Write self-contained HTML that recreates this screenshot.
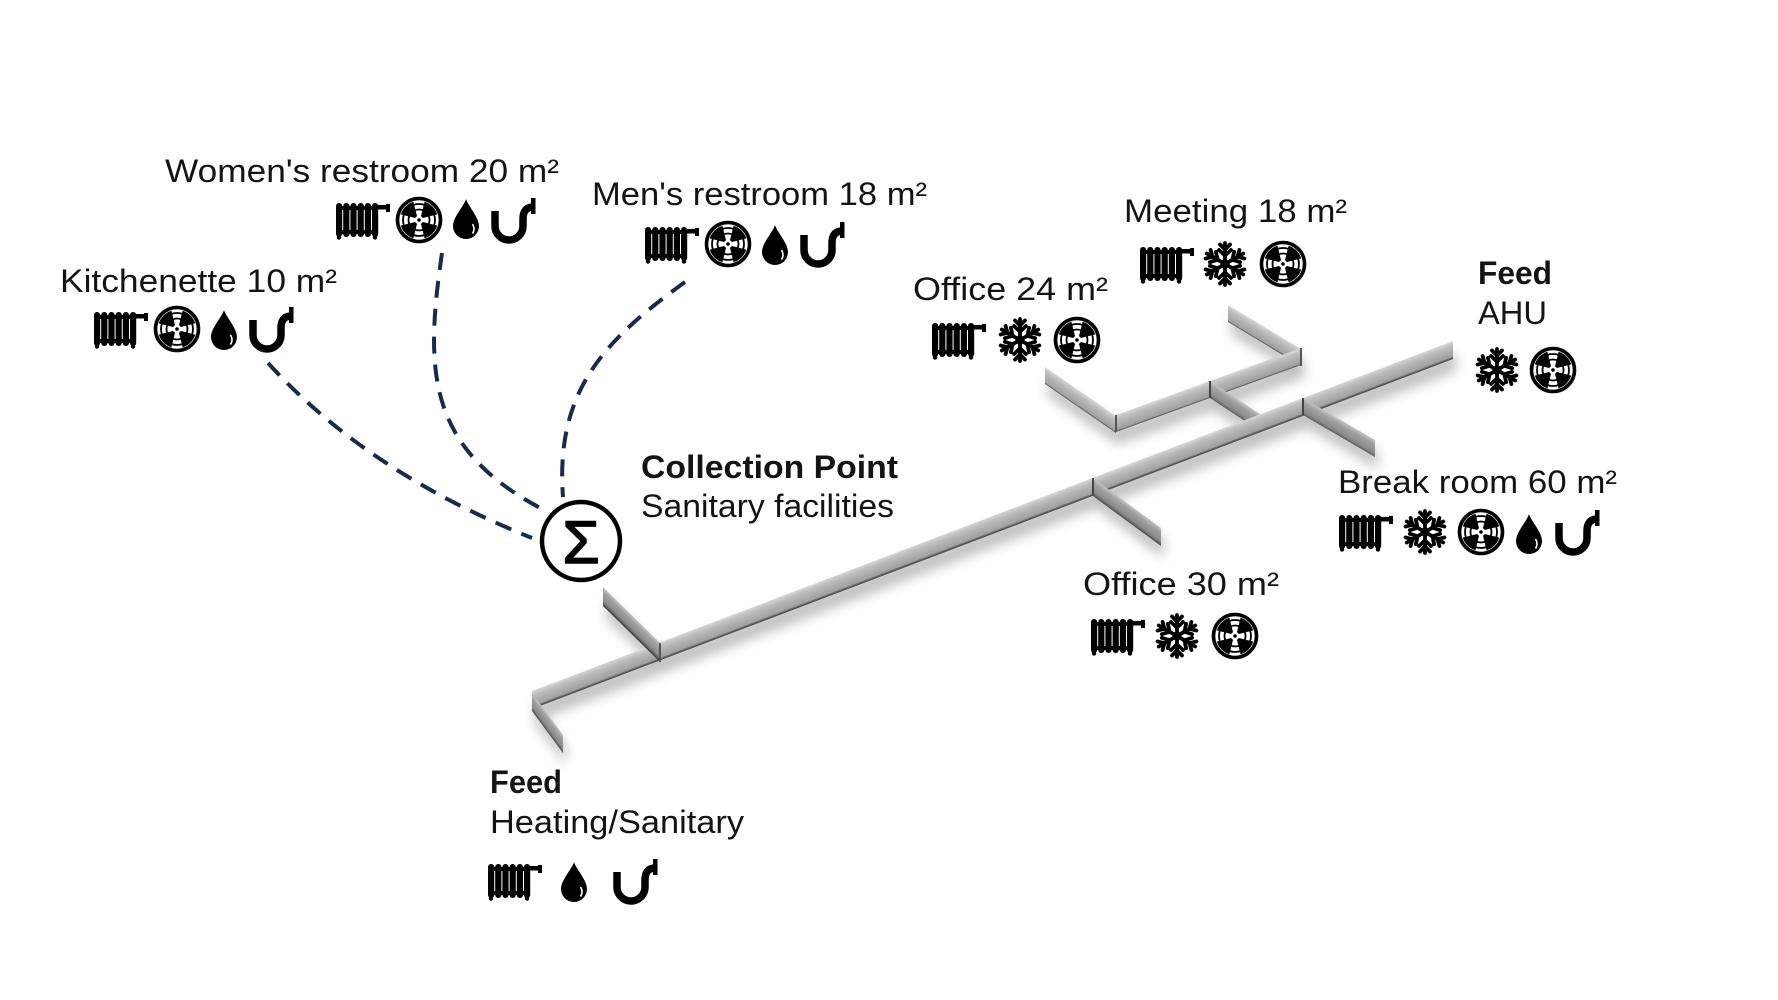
<!DOCTYPE html>
<html>
<head>
<meta charset="utf-8">
<style>
html,body{margin:0;padding:0;background:#fff;}
svg{display:block;}
</style>
</head>
<body>
<svg xmlns="http://www.w3.org/2000/svg" xmlns:xlink="http://www.w3.org/1999/xlink" width="1778" height="1000" viewBox="0 0 1778 1000" font-family="'Liberation Sans', Arial, sans-serif">
<defs>
  <linearGradient id="pg" gradientUnits="userSpaceOnUse" x1="0" y1="0" x2="0" y2="18">
    <stop offset="0" stop-color="#d8d8d8"/>
    <stop offset="0.2" stop-color="#c2c2c2"/>
    <stop offset="0.5" stop-color="#b0b0b0"/>
    <stop offset="0.85" stop-color="#a0a0a0"/>
    <stop offset="0.9" stop-color="#6a6a6a"/>
    <stop offset="1" stop-color="#454545"/>
  </linearGradient>
  <linearGradient id="pg2" gradientUnits="userSpaceOnUse" x1="0" y1="0" x2="0" y2="18">
    <stop offset="0" stop-color="#c4c4c4"/>
    <stop offset="0.25" stop-color="#a2a2a2"/>
    <stop offset="0.75" stop-color="#8a8a8a"/>
    <stop offset="0.9" stop-color="#666"/>
    <stop offset="1" stop-color="#444"/>
  </linearGradient>
  <filter id="blur" x="-20%" y="-20%" width="140%" height="140%">
    <feGaussianBlur stdDeviation="6"/>
  </filter>

  <!-- radiator -->
  <g id="rad">
    <rect x="-27" y="-17" width="6.2" height="34" rx="3"/>
    <rect x="-19.8" y="-17" width="6.2" height="34" rx="3"/>
    <rect x="-12.6" y="-17" width="6.2" height="34" rx="3"/>
    <rect x="-5.4" y="-17" width="6.2" height="34" rx="3"/>
    <rect x="1.8" y="-17" width="6.2" height="34" rx="3"/>
    <rect x="9" y="-17" width="6.2" height="34" rx="3"/>
    <rect x="-27" y="-14" width="42" height="4"/>
    <rect x="-27" y="10" width="42" height="4"/>
    <rect x="13" y="-15" width="12" height="4.5"/>
    <rect x="23" y="-16" width="4" height="8"/>
    <circle cx="-24" cy="17.5" r="2.2"/>
    <circle cx="12" cy="17.5" r="2.2"/>
  </g>

  <!-- fan: blades on diagonals (X) -->
  <path id="blade" d="M3.9,2.0 L18.2,5.6 A19,19 0 0 1 5.6,18.2 L2.0,3.9 Z"/>
  <g id="fan">
    <circle r="21.5" fill="#fff" stroke="#000" stroke-width="3.6"/>
    <circle r="16" fill="none" stroke="#000" stroke-width="1.8"/>
    <circle r="10.5" fill="none" stroke="#000" stroke-width="1.8"/>
    <use xlink:href="#blade" href="#blade"/>
    <use xlink:href="#blade" href="#blade" transform="rotate(90)"/>
    <use xlink:href="#blade" href="#blade" transform="rotate(180)"/>
    <use xlink:href="#blade" href="#blade" transform="rotate(270)"/>
    <circle r="3.4" fill="#fff"/>
    <circle r="1.8" fill="#000"/>
  </g>

  <!-- snowflake -->
  <g id="arm" stroke="#000" stroke-width="3.8" stroke-linecap="round" fill="none">
    <line x1="0" y1="0" x2="0" y2="-21"/>
    <polyline points="-6,-14 0,-8.5 6,-14"/>
    <polyline points="-5,-19.5 0,-14.5 5,-19.5"/>
  </g>
  <g id="snow">
    <use xlink:href="#arm" href="#arm"/>
    <use xlink:href="#arm" href="#arm" transform="rotate(60)"/>
    <use xlink:href="#arm" href="#arm" transform="rotate(120)"/>
    <use xlink:href="#arm" href="#arm" transform="rotate(180)"/>
    <use xlink:href="#arm" href="#arm" transform="rotate(240)"/>
    <use xlink:href="#arm" href="#arm" transform="rotate(300)"/>
    <circle r="4.6" fill="#000"/>
  </g>

  <!-- drop -->
  <g id="drop">
    <path d="M0,-21 C-2,-14 -13,-3 -13,6 A13,13 0 0 0 13,6 C13,-3 2,-14 0,-21 Z" fill="#000"/>
    <path d="M6.5,4 Q9.5,9 6.5,13.5" stroke="#fff" stroke-width="1.6" fill="none"/>
  </g>

  <!-- trap -->
  <g id="trap">
    <path d="M-18,-9 V6 A14,14 0 0 0 10,6 V-1 Q10,-12 19,-13" stroke="#000" stroke-width="7.5" fill="none"/>
    <rect x="18" y="-22" width="4.5" height="16" fill="#000"/>
  </g>

  <g id="segs">
    <g transform="matrix(73 44 0 1 1228 305)"><rect x="0" y="0" width="1" height="17"/></g>
    <g transform="matrix(71 49 0 1 1045 367)"><rect x="0" y="0" width="1" height="17"/></g>
    <g transform="matrix(185 -67 0 1 1116 415)"><rect x="0" y="0" width="1" height="17"/></g>
    <g transform="matrix(50 33 0 1 1210 381)"><rect x="0" y="0" width="1" height="17"/></g>
    <g transform="matrix(921 -350 0 1 532 691)"><rect x="0" y="0" width="1" height="18"/></g>
    <g transform="matrix(72 42 0 1 1303 398)"><rect x="0" y="0" width="1" height="17"/></g>
    <g transform="matrix(68 50 0 1 1093 478)"><rect x="0" y="0" width="1" height="18"/></g>
    <g transform="matrix(57 56 0 1 603 587)"><rect x="0" y="0" width="1" height="19"/></g>
    <g transform="matrix(31 42 0 1 532 693)"><rect x="0" y="0" width="1" height="18"/></g>
  </g>
</defs>

<rect width="1778" height="1000" fill="#fff"/>

<!-- pipe shadows -->
<g filter="url(#blur)" opacity="0.25" transform="translate(3,12)">
  <use xlink:href="#segs" href="#segs" fill="#000"/>
</g>

<!-- pipes -->
<g>
  <g transform="matrix(73 44 0 1 1228 305)"><rect x="0" y="0" width="1" height="17" fill="url(#pg)"/></g>
  <g transform="matrix(71 49 0 1 1045 367)"><rect x="0" y="0" width="1" height="17" fill="url(#pg)"/></g>
  <g transform="matrix(185 -67 0 1 1116 415)"><rect x="0" y="0" width="1" height="17" fill="url(#pg)"/></g>
  <g transform="matrix(50 33 0 1 1210 381)"><rect x="0" y="0" width="1" height="17" fill="url(#pg2)"/></g>
  <g transform="matrix(921 -350 0 1 532 691)"><rect x="0" y="0" width="1" height="18" fill="url(#pg)"/></g>
  <g transform="matrix(72 42 0 1 1303 398)"><rect x="0" y="0" width="1" height="17" fill="url(#pg2)"/></g>
  <g transform="matrix(68 50 0 1 1093 478)"><rect x="0" y="0" width="1" height="18" fill="url(#pg2)"/></g>
  <g transform="matrix(57 56 0 1 603 587)"><rect x="0" y="0" width="1" height="19" fill="url(#pg2)"/></g>
  <g transform="matrix(31 42 0 1 532 693)"><rect x="0" y="0" width="1" height="18" fill="url(#pg2)"/></g>
  <line x1="1116" y1="415" x2="1116" y2="432" stroke="#555" stroke-width="2"/>
  <line x1="1301" y1="348" x2="1301" y2="366" stroke="#555" stroke-width="2"/>
  <line x1="1210" y1="381" x2="1210" y2="398" stroke="#444" stroke-width="2"/>
  <line x1="1303" y1="398" x2="1303" y2="415" stroke="#444" stroke-width="2"/>
  <line x1="1093" y1="478" x2="1093" y2="496" stroke="#444" stroke-width="2"/>
  <line x1="660" y1="643" x2="660" y2="662" stroke="#555" stroke-width="2"/>
</g>

<!-- dashed connectors -->
<g stroke="#1b2a4a" stroke-width="4" fill="none" stroke-dasharray="17 11">
  <path d="M268,363 Q367,472 532,538"/>
  <path d="M442,253 C425,370 425,450 548,512"/>
  <path d="M685,282 C605,340 555,390 563,497"/>
</g>

<!-- collection point -->
<circle cx="581" cy="541" r="39" fill="#fff" stroke="#000" stroke-width="4.5"/>
<text x="581" y="563" font-size="60" text-anchor="middle" fill="#000" stroke="#000" stroke-width="1.6">Σ</text>

<!-- labels -->
<g fill="#141414" font-size="32">
  <text x="165" y="182" textLength="394" lengthAdjust="spacingAndGlyphs">Women's restroom 20 m²</text>
  <text x="592" y="205" textLength="335" lengthAdjust="spacingAndGlyphs">Men's restroom 18 m²</text>
  <text x="60" y="292" textLength="277" lengthAdjust="spacingAndGlyphs">Kitchenette 10 m²</text>
  <text x="1124" y="222" textLength="223" lengthAdjust="spacingAndGlyphs">Meeting 18 m²</text>
  <text x="913" y="300" textLength="195" lengthAdjust="spacingAndGlyphs">Office 24 m²</text>
  <text x="1478" y="284" font-weight="bold" textLength="74" lengthAdjust="spacingAndGlyphs">Feed</text>
  <text x="1478" y="324" textLength="69" lengthAdjust="spacingAndGlyphs">AHU</text>
  <text x="641" y="478" font-weight="bold" textLength="257" lengthAdjust="spacingAndGlyphs">Collection Point</text>
  <text x="641" y="517" textLength="253" lengthAdjust="spacingAndGlyphs">Sanitary facilities</text>
  <text x="1338" y="493" textLength="279" lengthAdjust="spacingAndGlyphs">Break room 60 m²</text>
  <text x="1083" y="595" textLength="196" lengthAdjust="spacingAndGlyphs">Office 30 m²</text>
  <text x="490" y="793" font-weight="bold" textLength="72" lengthAdjust="spacingAndGlyphs">Feed</text>
  <text x="490" y="833" textLength="254" lengthAdjust="spacingAndGlyphs">Heating/Sanitary</text>
</g>

<!-- icons -->
<g fill="#000">
  <use xlink:href="#rad" href="#rad" x="363" y="220"/>
  <use xlink:href="#fan" href="#fan" x="419" y="220"/>
  <use xlink:href="#drop" href="#drop" x="466" y="220"/>
  <use xlink:href="#trap" href="#trap" x="513" y="220"/>

  <use xlink:href="#rad" href="#rad" x="672" y="244"/>
  <use xlink:href="#fan" href="#fan" x="728" y="244"/>
  <use xlink:href="#drop" href="#drop" x="775" y="246"/>
  <use xlink:href="#trap" href="#trap" x="822" y="244"/>

  <use xlink:href="#rad" href="#rad" x="121" y="329"/>
  <use xlink:href="#fan" href="#fan" x="177" y="329"/>
  <use xlink:href="#drop" href="#drop" x="224" y="331"/>
  <use xlink:href="#trap" href="#trap" x="271" y="329"/>

  <use xlink:href="#rad" href="#rad" x="1167" y="264"/>
  <use xlink:href="#snow" href="#snow" x="1225" y="264"/>
  <use xlink:href="#fan" href="#fan" x="1283" y="264"/>

  <use xlink:href="#rad" href="#rad" x="959" y="340"/>
  <use xlink:href="#snow" href="#snow" x="1020" y="340"/>
  <use xlink:href="#fan" href="#fan" x="1077" y="340"/>

  <use xlink:href="#snow" href="#snow" x="1497" y="370"/>
  <use xlink:href="#fan" href="#fan" x="1553" y="370"/>

  <use xlink:href="#rad" href="#rad" x="1366" y="532"/>
  <use xlink:href="#snow" href="#snow" x="1425" y="532"/>
  <use xlink:href="#fan" href="#fan" x="1481" y="532"/>
  <use xlink:href="#drop" href="#drop" x="1529" y="535"/>
  <use xlink:href="#trap" href="#trap" x="1577" y="532"/>

  <use xlink:href="#rad" href="#rad" x="1118" y="636"/>
  <use xlink:href="#snow" href="#snow" x="1177" y="636"/>
  <use xlink:href="#fan" href="#fan" x="1235" y="636"/>

  <use xlink:href="#rad" href="#rad" x="515" y="881"/>
  <use xlink:href="#drop" href="#drop" x="574" y="883"/>
  <use xlink:href="#trap" href="#trap" x="635" y="881"/>
</g>
</svg>
</body>
</html>
